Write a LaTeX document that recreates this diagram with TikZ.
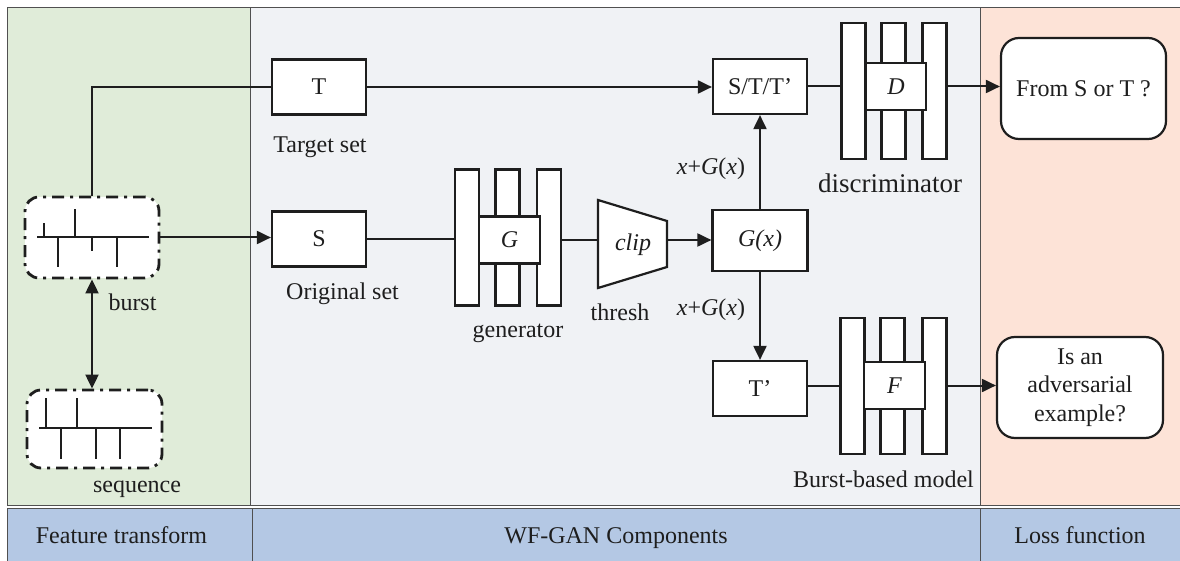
\documentclass[tikz,border=0pt]{standalone}
\usepackage{fontspec}
\setmainfont{Liberation Serif}
\usetikzlibrary{arrows.meta,shapes.geometric}
\definecolor{pgreen}{RGB}{224,236,217}
\definecolor{pgray}{RGB}{240,242,245}
\definecolor{psalmon}{RGB}{253,227,215}
\definecolor{pblue}{RGB}{180,200,228}
\definecolor{pline}{RGB}{80,80,80}
\definecolor{ink}{RGB}{30,30,30}
\begin{document}
\begin{tikzpicture}[x=1pt,y=-1pt,
  font=\fontsize{24}{28.5}\selectfont, color=ink,
  box/.style={draw=ink, line width=2.2pt, fill=white, minimum width=94pt, minimum height=55pt, inner sep=0pt},
  bar/.style={draw=ink, line width=2.2pt, fill=white, minimum width=24pt, minimum height=136pt, inner sep=0pt},
  core/.style={draw=ink, line width=2.2pt, fill=white, minimum width=61pt, minimum height=47pt, inner sep=0pt, font=\fontsize{24}{28}\selectfont\itshape},
  ddbox/.style={draw=ink, line width=2.8pt, rounded corners=14pt, dash pattern=on 12pt off 6pt on 3pt off 6pt, fill=white, minimum width=134pt, minimum height=81pt, inner sep=0pt},
  outbox/.style={draw=ink, line width=2.2pt, rounded corners=18pt, fill=white, minimum width=165pt, minimum height=101pt, align=center, inner sep=0pt},
  conn/.style={draw=ink, line width=2pt},
  tip/.tip={Triangle[length=14pt,width=13pt]},
  arr/.style={conn, -tip},
  lbl/.style={inner sep=0pt, anchor=base},
  tick/.style={draw=ink, line width=1.8pt},
  panel/.style={draw=pline, line width=1pt},
]
\useasboundingbox (0,0) rectangle (1180,561);
\fill[white] (0,0) rectangle (1180,561);
% panels
\fill[pgreen] (7,8) rectangle (250,505);
\fill[pgray] (250,8) rectangle (980,505);
\fill[psalmon] (980,8) rectangle (1180,505);
\draw[panel] (1180,8) -- (7,8) -- (7,505) -- (1180,505);
\draw[panel] (250,8) -- (250,505);
\draw[panel] (980,8) -- (980,505);
\fill[pblue] (7,508) rectangle (1180,561);
\draw[panel] (7,561) -- (7,508) -- (1180,508);
\draw[panel] (252,508) -- (252,561);
\draw[panel] (980,508) -- (980,561);
\node[lbl] (lft) at (121.5,543) {Feature transform};
\node[lbl] (lwf) at (616,543) {WF-GAN Components};
\node[lbl] (llf) at (1080,543) {Loss function};

% feature transform
\node[ddbox] (burst) at (92,237.5) {};
\draw[tick] (37,237) -- (149,237);
\draw[tick] (44,237) -- (44,223);
\draw[tick] (75,237) -- (75,209);
\draw[tick] (58,237) -- (58,267);
\draw[tick] (92,237) -- (92,251);
\draw[tick] (117,237) -- (117,267);
\node[lbl] (lburst) at (132.5,310) {burst};
\node[ddbox, minimum width=135pt, minimum height=78pt] (seq) at (94.5,429) {};
\draw[tick] (39,428) -- (152,428);
\draw[tick] (46,428) -- (46,398);
\draw[tick] (77,428) -- (77,398);
\draw[tick] (61,428) -- (61,459);
\draw[tick] (96,428) -- (96,459);
\draw[tick] (120,428) -- (120,459);
\node[lbl] (lseq) at (137,492) {sequence};
\draw[conn, tip-tip] (burst.south) -- (burst.south |- seq.north);

% sets
\node[box] (T) at (319,87) {T};
\node[lbl] (lT) at (320,153) {Target set};
\node[box] (S) at (319,239) {S};
\node[lbl] (lS) at (342.5,299) {Original set};
\draw[conn] (burst.north) |- (T.west);
\draw[arr] (burst.east) -- (burst.east -| S.west);

% generator
\node[bar] (gb1) at (467,237.5) {};
\node[bar] (gb2) at (507.5,237.5) {};
\node[bar] (gb3) at (549,237.5) {};
\node[core] (G) at (509.5,240) {G};
\node[lbl] (lgen) at (518,337) {generator};
\draw[conn] (S.east) -- (S.east -| gb1.west);

% clip
\coordinate (clipL) at (598,240);
\coordinate (clipR) at (667,240);
\draw[draw=ink, line width=2.2pt, fill=white] (598,200) -- (667,221) -- (667,267) -- (598,288) -- cycle;
\node[inner sep=0pt, font=\fontsize{24}{28}\selectfont\itshape] (clipt) at (633,245) {clip};
\node[lbl] (lthr) at (620,320) {thresh};
\draw[conn] (gb3.east |- clipL) -- (clipL);

% G(x)
\node[box, minimum width=95pt, minimum height=61pt, font=\fontsize{24}{28}\selectfont\itshape] (Gx) at (760,240.5) {G(x)};
\draw[arr] (clipR) -- (clipR -| Gx.west);

% S/T/T'
\node[box] (STT) at (760,86.5) {S/T/T’};
\draw[arr] (T.east) -- (T.east -| STT.west);
\draw[arr] (Gx.north) -- (STT.south);
\node[lbl] (lx1) at (711,175) {\textit{x}+\textit{G}(\textit{x})};
\node[lbl] (lx2) at (711,315) {\textit{x}+\textit{G}(\textit{x})};

% discriminator
\node[bar] (db1) at (853.5,91) {};
\node[bar] (db2) at (893.5,91) {};
\node[bar] (db3) at (934.5,91) {};
\node[core, minimum width=60pt] (D) at (896,86.5) {D};
\node[lbl, font=\fontsize{27}{30}\selectfont] (ldis) at (890,193) {discriminator};
\draw[conn] (STT.east) -- (STT.east -| db1.west);
\node[outbox] (from) at (1083.5,88.5) {From S or T ?};
\draw[arr] (db3.east |- STT.east) -- (from.west |- STT.east);

% T' and F
\node[box] (Tp) at (760,388.5) {T’};
\draw[arr] (Gx.south) -- (Tp.north);
\node[bar] (fb1) at (852.5,386) {};
\node[bar] (fb2) at (892.5,386) {};
\node[bar] (fb3) at (934.5,386) {};
\node[core] (F) at (894.5,385.5) {F};
\node[lbl] (lbm) at (883.5,487) {Burst-based model};
\draw[conn] (Tp.east |- F.center) -- (fb1.west |- F.center);
\node[outbox, minimum width=166pt] (adv) at (1080,387.5) {Is an\\adversarial\\example?};
\draw[arr] (fb3.east |- F.center) -- (adv.west |- F.center);
\end{tikzpicture}
\end{document}
